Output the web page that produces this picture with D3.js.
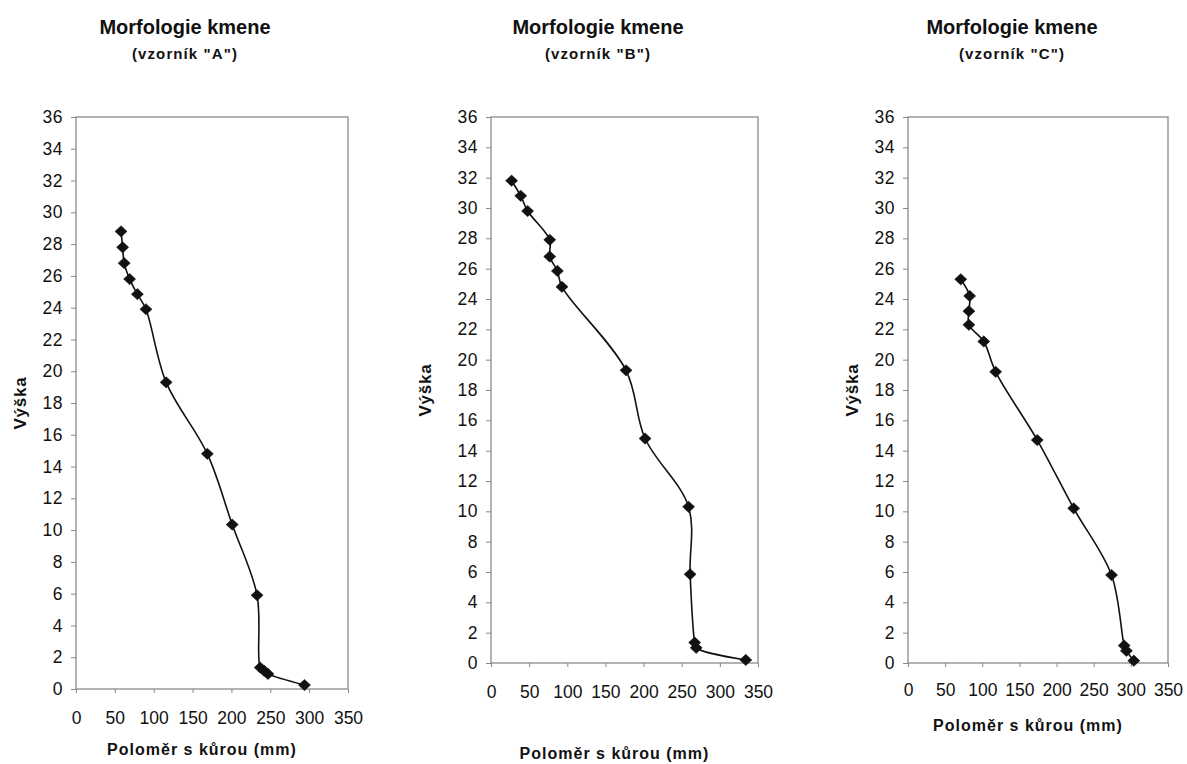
<!DOCTYPE html>
<html>
<head>
<meta charset="utf-8">
<script src="https://cdn.jsdelivr.net/npm/d3@7"></script>
<style>
  html, body { margin: 0; padding: 0; background: #fff; }
  svg { display: block; font-family: "Liberation Sans", Arial, sans-serif; }
</style>
</head>
<body>
<svg id="chart" width="1187" height="764"></svg>
<script>
// Stem taper measurements: radius with bark (mm) at each measured height (m)
const heightA = [28.8, 27.8, 26.8, 25.8, 24.85, 23.9, 19.3, 14.8, 10.35, 5.9, 1.35, 1.15, 0.95, 0.25];
const radiusA = [58, 60, 62, 69, 79, 90, 116, 169, 201, 233, 237, 242, 247, 294];

const heightB = [31.8, 30.8, 29.8, 27.9, 26.8, 25.85, 24.8, 19.3, 14.8, 10.3, 5.85, 1.35, 1.0, 0.2];
const radiusB = [27, 39, 48, 77, 77, 87, 93, 177, 202, 259, 261, 267, 269, 334];

const heightC = [25.3, 24.2, 23.2, 22.3, 21.2, 19.2, 14.7, 10.2, 5.8, 1.15, 0.8, 0.15];
const radiusC = [71, 83, 82, 82, 102, 118, 174, 223, 274, 291, 294, 304];

const sampleNames = ["A", "B", "C"];
const xTicks = [0, 50, 100, 150, 200, 250, 300, 350];
const yTicks = d3.range(0, 37, 2);

const chartTitle = "Morfologie kmene";
const xTitle = "Poloměr s kůrou (mm)";
const yTitle = "Výška";

// Panel layout (plot-area boxes and label offsets)
const panels = [
  { name: sampleNames[0], h: heightA, r: radiusA,
    box: { x0: 76, x1: 348, y0: 117, y1: 689 },
    titleX: 185, xLabY: 718, xTitleY: 749, yTitleX: 20 },
  { name: sampleNames[1], h: heightB, r: radiusB,
    box: { x0: 491, x1: 758, y0: 117, y1: 663 },
    titleX: 598, xLabY: 692, xTitleY: 753, yTitleX: 425 },
  { name: sampleNames[2], h: heightC, r: radiusC,
    box: { x0: 908, x1: 1168, y0: 117, y1: 663 },
    titleX: 1012, xLabY: 690, xTitleY: 725, yTitleX: 852 }
];

const svg = d3.select("#chart");
svg.append("rect").attr("width", 1187).attr("height", 764).attr("fill", "#fff");

panels.forEach(p => {
  const x = d3.scaleLinear().domain([0, 350]).range([p.box.x0, p.box.x1]);
  const y = d3.scaleLinear().domain([0, 36]).range([p.box.y1, p.box.y0]);
  const g = svg.append("g");

  // titles
  g.append("text")
    .attr("x", p.titleX).attr("y", 27)
    .attr("text-anchor", "middle").attr("dominant-baseline", "central")
    .attr("font-size", 20).attr("font-weight", "bold").attr("fill", "#111")
    .text(chartTitle);
  g.append("text")
    .attr("x", p.titleX).attr("y", 53)
    .attr("text-anchor", "middle").attr("dominant-baseline", "central")
    .attr("font-size", 15).attr("font-weight", "bold").attr("fill", "#111")
    .attr("letter-spacing", 1.1)
    .text(`(vzorník "${p.name}")`);

  // y axis
  const yAxis = d3.axisLeft(y).tickValues(yTicks).tickSize(5).tickPadding(8);
  const ya = g.append("g").attr("transform", `translate(${p.box.x0},0)`).call(yAxis);
  ya.select(".domain").remove();
  ya.selectAll(".tick line").attr("stroke", "#888");
  ya.selectAll(".tick text")
    .attr("font-size", 17.5).attr("fill", "#111").attr("letter-spacing", 0.5)
    .attr("font-family", "'Liberation Sans', Arial, sans-serif");

  // x axis
  const xAxis = d3.axisBottom(x).tickValues(xTicks).tickSize(4).tickPadding(0);
  const xa = g.append("g").attr("transform", `translate(0,${p.box.y1})`).call(xAxis);
  xa.select(".domain").remove();
  xa.selectAll(".tick line").attr("stroke", "#888");
  xa.selectAll(".tick text")
    .attr("y", p.xLabY - p.box.y1).attr("dy", null)
    .attr("dominant-baseline", "central")
    .attr("font-size", 17.5).attr("fill", "#111")
    .attr("font-family", "'Liberation Sans', Arial, sans-serif");

  // plot-area frame
  g.append("rect")
    .attr("x", p.box.x0).attr("y", p.box.y0)
    .attr("width", p.box.x1 - p.box.x0).attr("height", p.box.y1 - p.box.y0)
    .attr("fill", "none").attr("stroke", "#8a8a8a").attr("stroke-width", 1.3);

  // axis titles
  g.append("text")
    .attr("x", (p.box.x0 + p.box.x1) / 2 - 10).attr("y", p.xTitleY)
    .attr("text-anchor", "middle").attr("dominant-baseline", "central")
    .attr("font-size", 16).attr("font-weight", "bold").attr("fill", "#111")
    .attr("letter-spacing", 1)
    .text(xTitle);
  g.append("text")
    .attr("transform", `translate(${p.yTitleX},${(p.box.y0 + p.box.y1) / 2}) rotate(-90)`)
    .attr("text-anchor", "middle").attr("dominant-baseline", "central")
    .attr("font-size", 17).attr("font-weight", "bold").attr("fill", "#111")
    .attr("letter-spacing", 0.8)
    .text(yTitle);

  // smoothed profile line
  const pts = p.h.map((hv, i) => ({ h: hv, r: p.r[i] }));
  const line = d3.line().x(d => x(d.r)).y(d => y(d.h)).curve(d3.curveCatmullRom.alpha(0.5));
  g.append("path").datum(pts)
    .attr("d", line).attr("fill", "none")
    .attr("stroke", "#111").attr("stroke-width", 1.6);

  // diamond markers
  g.selectAll(".pt").data(pts).enter().append("path")
    .attr("class", "pt")
    .attr("transform", d => `translate(${x(d.r)},${y(d.h)})`)
    .attr("d", "M0,-5.6L6,0L0,5.6L-6,0Z")
    .attr("fill", "#111").attr("stroke", "#111").attr("stroke-width", 0.6);
});
</script>
</body>
</html>
